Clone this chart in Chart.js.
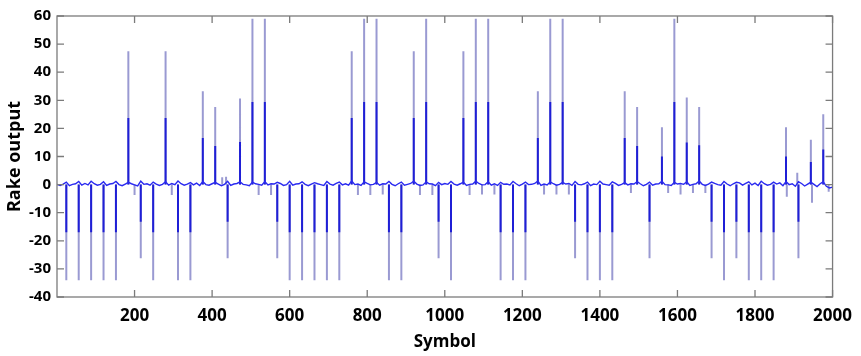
<!DOCTYPE html>
<html>
<head>
<meta charset="utf-8">
<script src="https://cdn.jsdelivr.net/npm/chart.js@4.4.1/dist/chart.umd.min.js"></script>
<style>
  body { margin: 0; background: #fff; }
  #wrap { width: 861px; height: 356px; }
</style>
</head>
<body>
<div id="wrap"><canvas id="rake" width="861" height="356"></canvas></div>
<script>
/* Rake output vs symbol index */

// symbol index of each pilot peak
const spikeX = [24, 56, 88, 120, 152, 184, 216, 248, 280, 312, 344, 376, 408, 440, 472, 504,
  536, 568, 600, 632, 664, 696, 728, 760, 792, 824, 856, 888, 920, 952, 984, 1016,
  1048, 1080, 1112, 1144, 1176, 1208, 1240, 1272, 1304, 1336, 1368, 1400, 1432, 1464, 1496, 1528,
  1560, 1592, 1624, 1656, 1688, 1720, 1752, 1784, 1816, 1848, 1880, 1912, 1944, 1976];

// faint trace (full amplitude)
const lightPeak = [-34, -34, -34, -34, -34, 47.5, -26.2, -34, 47.5, -34, -34, 33.2, 27.6, -26.2, 30.6, 59,
  59, -26.2, -34, -34, -34, -34, -34, 47.5, 59, 59, -34, -34, 47.5, 59, -26.2, -34,
  47.5, 59, 59, -34, -34, -34, 33.2, 59, 59, -26.2, -34, -34, -34, 33.2, 27.6, -26.2,
  20.4, 59, 31, 27.6, -26.2, -34, -26.2, -34, -34, -34, 20.4, -26.2, 16, 25];

// strong trace (half amplitude)
const darkPeak = [-17, -17, -17, -17, -17, 23.7, -13.2, -17, 23.7, -17, -17, 16.6, 13.7, -13.2, 15.2, 29.4,
  29.4, -13.2, -17, -17, -17, -17, -17, 23.7, 29.4, 29.4, -17, -17, 23.7, 29.4, -13.2, -17,
  23.7, 29.4, 29.4, -17, -17, -17, 16.6, 29.4, 29.4, -13.2, -17, -17, -17, 16.6, 13.7, -13.2,
  10, 29.4, 15, 14, -13.2, -17, -13.2, -17, -17, -17, 10, -13.2, 8, 12.5];

// small side lobes of the faint trace
const extraX = [200, 296, 426, 436, 520, 552, 776, 808, 840, 936, 968, 1064, 1096, 1128, 1256, 1288,
  1320, 1480, 1576, 1608, 1640, 1672, 1882, 1909, 1947, 1990];
const extraLight = [-3.7, -3.7, 2.6, 2.8, -3.7, -3.7, -3.7, -3.7, -3.5, -3.7, -3.7, -3.7, -3.5, -3.5, -3.5, -3.5,
  -3.5, -3, -3, -3.5, -3, -3, -4.3, 4.2, -6.5, -2.5];

// residual around zero, one value every 8 symbols
const noiseStep = 8;
const noise = [
  0.1, -0.3, 0.2, 0.9, -0.4, 0.1, 0.3, 1.1, -0.2, 0.4, -0.1, 1.2, 0.3, -0.2, 0.1, 1.0,
  -0.3, 0.2, 0.4, 1.1, 0.0, -0.4, 0.2, 0.8, 0.3, -0.1, -0.5, 1.2, 0.1, 0.3, -0.2, 0.9,
  0.2, -0.3, 0.1, 1.0, -0.2, 0.4, 0.0, 1.3, 0.3, -0.2, 0.2, 0.7, -0.1, 0.5, -0.3, 1.1,
  0.0, -0.2, 0.3, 0.8, 0.2, -0.4, 0.1, 1.2, -0.3, 0.2, 0.4, 1.0, 0.1, -0.1, -0.4, 0.9,
  0.3, 0.1, -0.2, 1.1, -0.1, 0.3, 0.2, 0.8, 0.4, -0.3, 0.0, 1.2, -0.2, 0.2, 0.3, 1.0,
  0.1, -0.4, 0.2, 0.7, 0.3, 0.0, -0.3, 1.1, 0.2, -0.2, 0.4, 0.9, -0.1, 0.3, -0.2, 1.3,
  0.0, 0.2, -0.3, 1.0, 0.4, -0.1, 0.1, 0.8, -0.2, 0.3, 0.2, 1.1, 0.1, -0.4, 0.3, 0.9,
  -0.2, 0.1, 0.4, 1.2, 0.2, -0.3, -0.1, 1.0, 0.3, 0.2, -0.4, 0.8, 0.0, 0.4, 0.1, 1.1,
  0.2, -0.2, 0.3, 0.9, -0.3, 0.1, 0.2, 1.2, 0.4, -0.1, 0.0, 1.0, -0.2, 0.3, -0.3, 0.8,
  0.1, 0.2, -0.1, 1.1, 0.3, -0.4, 0.2, 0.9, 0.0, 0.1, 0.4, 1.3, -0.3, 0.2, -0.1, 1.0,
  0.3, -0.2, 0.1, 0.8, 0.2, 0.4, -0.3, 1.1, 0.1, -0.1, 0.3, 0.9, -0.4, 0.2, 0.0, 1.2,
  0.2, 0.0, -0.2, 1.0, 0.4, -0.3, 0.1, 0.7, -0.1, 0.3, 0.2, 1.1, 0.3, -0.4, 0.1, 0.9,
  -0.2, 0.2, 0.3, 1.2, 0.0, -0.1, -0.3, 0.8, 0.2, 0.4, 0.1, 1.0, -0.3, 0.1, 0.3, 1.3,
  0.1, -0.3, 0.2, 0.9, 0.4, 0.0, -0.2, 1.1, 0.2, -0.4, 0.3, 0.8, 0.6, -0.2, 0.4, 1.0,
  -0.1, 0.5, -0.3, 1.2, 0.3, -0.2, 0.1, 0.9, 0.2, 0.6, -0.4, 1.1, 0.0, 0.3, -0.6, 1.0,
  0.4, -0.5, 0.2, 0.9, 0.1, -0.7, 0.3, 1.0, -0.6, -1.2, -0.9
];

const xTicks = [200, 400, 600, 800, 1000, 1200, 1400, 1600, 1800, 2000];
const yTicks = [-40, -30, -20, -10, 0, 10, 20, 30, 40, 50, 60];

// vertical stems from 0 to each peak, split by gaps
function stems(xs, ys) {
  let pts = [];
  for (let i = 0; i < xs.length; i++) {
    pts.push({x: xs[i], y: 0}, {x: xs[i], y: ys[i]}, {x: xs[i], y: null});
  }
  return pts;
}

const lightPts = stems(spikeX, lightPeak).concat(stems(extraX, extraLight));
const darkPts = stems(spikeX, darkPeak);
const noisePts = noise.map((v, i) => ({x: i * noiseStep, y: v}));

// MATLAB style box with ticks pointing inward
const frame = {
  id: 'frame',
  afterDatasetsDraw(chart) {
    const {ctx, chartArea: a, scales} = chart;
    ctx.save();
    ctx.strokeStyle = '#7b7b7b';
    ctx.lineWidth = 1.3;
    ctx.strokeRect(a.left, a.top, a.right - a.left, a.bottom - a.top);
    ctx.beginPath();
    xTicks.forEach(v => {
      let px = scales.x.getPixelForValue(v);
      ctx.moveTo(px, a.bottom); ctx.lineTo(px, a.bottom - 7);
      ctx.moveTo(px, a.top); ctx.lineTo(px, a.top + 7);
    });
    yTicks.forEach(v => {
      let py = scales.y.getPixelForValue(v);
      ctx.moveTo(a.left, py); ctx.lineTo(a.left + 7, py);
      ctx.moveTo(a.right, py); ctx.lineTo(a.right - 7, py);
    });
    ctx.stroke();
    ctx.restore();
  }
};

let rakeChart = new Chart(document.getElementById('rake').getContext('2d'), {
  type: 'line',
  data: {
    datasets: [
      {
        label: 'noise',
        data: noisePts,
        borderColor: '#2a2af0',
        borderWidth: 1.4,
        pointRadius: 0,
        tension: 0
      },
      {
        label: 'strong',
        data: darkPts,
        borderColor: '#1f1fd6',
        borderWidth: 2,
        pointRadius: 0,
        spanGaps: false
      },
      {
        label: 'faint',
        data: lightPts,
        borderColor: '#9a9ad2',
        borderWidth: 2,
        pointRadius: 0,
        spanGaps: false
      }
    ]
  },
  options: {
    responsive: false,
    animation: false,
    events: [],
    layout: { padding: { top: 16, right: 25, left: 0, bottom: 0 } },
    plugins: { legend: { display: false }, tooltip: { enabled: false } },
    scales: {
      x: {
        type: 'linear',
        min: 0,
        max: 2000,
        grid: { display: false, drawTicks: false },
        border: { display: false },
        afterBuildTicks: s => { s.ticks = xTicks.map(v => ({value: v})); },
        afterFit: s => { s.height = 59; },
        ticks: {
          padding: 9,
          maxRotation: 0,
          color: '#000',
          callback: v => String(v),
          font: { family: 'Open Sans', size: 17, weight: 'bold' }
        },
        title: {
          display: true,
          text: 'Symbol',
          color: '#000',
          padding: { top: 0, bottom: 4 },
          font: { family: 'Open Sans', size: 17, weight: 'bold' }
        }
      },
      y: {
        min: -40,
        max: 60,
        grid: { display: false, drawTicks: false },
        border: { display: false },
        afterBuildTicks: s => { s.ticks = yTicks.map(v => ({value: v})); },
        afterFit: s => { s.width = 57; },
        ticks: {
          padding: 6,
          color: '#000',
          callback: v => String(v),
          font: { family: 'Open Sans', size: 15, weight: 'bold' }
        },
        title: {
          display: true,
          text: 'Rake output',
          color: '#000',
          padding: { top: 4, bottom: 0 },
          font: { family: 'Open Sans', size: 18, weight: 'bold' }
        }
      }
    }
  },
  plugins: [frame]
});
</script>
</body>
</html>
